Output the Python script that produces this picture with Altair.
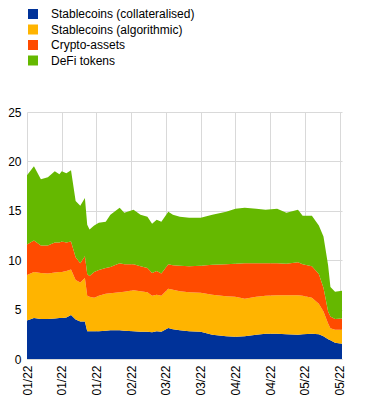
import altair as alt
import pandas as pd

dates = [
    "2022-01-01", "2022-01-04", "2022-01-07", "2022-01-10", "2022-01-13", "2022-01-15",
    "2022-01-16", "2022-01-18", "2022-01-20", "2022-01-22", "2022-01-24", "2022-01-26",
    "2022-01-27", "2022-01-28", "2022-01-30", "2022-02-01", "2022-02-04", "2022-02-06",
    "2022-02-10", "2022-02-12", "2022-02-16", "2022-02-19", "2022-02-22", "2022-02-24",
    "2022-02-26", "2022-02-28", "2022-03-03", "2022-03-05", "2022-03-08", "2022-03-12",
    "2022-03-17", "2022-03-22", "2022-03-28", "2022-04-01", "2022-04-05", "2022-04-10",
    "2022-04-14", "2022-04-19", "2022-04-23", "2022-04-28", "2022-04-30", "2022-05-04",
    "2022-05-07", "2022-05-09", "2022-05-11", "2022-05-12", "2022-05-14", "2022-05-17",
]

stable_collateralised = [
    3.9, 4.15, 4.05, 4.05, 4.1, 4.15, 4.15, 4.2, 4.45, 4.0, 3.8, 3.8,
    2.8, 2.8, 2.8, 2.8, 2.85, 2.9, 2.9, 2.85, 2.8, 2.75, 2.75, 2.7,
    2.8, 2.75, 3.15, 3.0, 2.9, 2.8, 2.75, 2.45, 2.3, 2.25, 2.3, 2.45,
    2.55, 2.55, 2.5, 2.45, 2.5, 2.55, 2.5, 2.3, 2.0, 1.9, 1.65, 1.55,
]
stable_algorithmic = [
    4.6, 4.65, 4.65, 4.6, 4.65, 4.65, 4.65, 4.7, 4.6, 4.0, 3.95, 4.4,
    3.6, 3.5, 3.4, 3.6, 3.75, 3.75, 3.85, 3.95, 4.15, 4.1, 4.0, 3.7,
    3.7, 3.65, 3.95, 4.0, 3.95, 3.95, 3.95, 4.05, 4.05, 4.05, 3.8, 3.85,
    3.85, 3.9, 3.95, 4.0, 3.9, 3.65, 3.1, 2.5, 1.6, 1.2, 1.3, 1.4,
]
crypto_assets = [
    3.1, 3.2, 2.8, 2.85, 3.05, 3.0, 3.1, 2.9, 2.85, 2.3, 1.95, 2.2,
    2.2, 2.1, 2.6, 2.6, 2.6, 2.65, 2.95, 2.8, 2.65, 2.55, 2.45, 2.3,
    2.4, 2.25, 2.5, 2.5, 2.6, 2.65, 2.75, 3.05, 3.25, 3.35, 3.6, 3.4,
    3.3, 3.25, 3.2, 3.35, 3.2, 3.2, 3.0, 2.4, 1.2, 1.2, 1.1, 1.15,
]
defi_tokens = [
    7.0, 7.5, 6.7, 6.9, 7.2, 6.9, 7.1, 7.0, 7.2, 5.7, 5.8, 5.9,
    5.0, 4.7, 4.7, 4.8, 4.7, 5.3, 5.6, 5.2, 5.5, 5.2, 5.2, 5.0,
    5.2, 5.25, 5.3, 5.1, 4.95, 4.9, 4.85, 5.05, 5.3, 5.55, 5.6, 5.5,
    5.4, 5.5, 5.15, 5.3, 4.9, 5.1, 4.9, 5.2, 4.7, 3.0, 2.75, 2.8,
]

series_names = [
    "Stablecoins (collateralised)",
    "Stablecoins (algorithmic)",
    "Crypto-assets",
    "DeFi tokens",
]
series_colors = ["#003299", "#FFB400", "#FF4B00", "#65B800"]

tick_dates = [
    "2022-01-01", "2022-01-16", "2022-01-31", "2022-02-15", "2022-03-02",
    "2022-03-17", "2022-04-01", "2022-04-16", "2022-05-01", "2022-05-16",
]
y_ticks = [0, 5, 10, 15, 20, 25]

rows = []
for s_idx, (name, vals) in enumerate(zip(series_names,
                                         [stable_collateralised, stable_algorithmic,
                                          crypto_assets, defi_tokens])):
    for d, v in zip(dates, vals):
        rows.append({"date": d, "series": name, "value": v, "order": s_idx})
df = pd.DataFrame(rows)


def dt(s):
    y, m, d = (int(p) for p in s.split("-"))
    return alt.DateTime(year=y, month=m, date=d, utc=True)


font = "Liberation Sans"

chart = (
    alt.Chart(df)
    .mark_area(interpolate="linear")
    .encode(
        x=alt.X(
            "date:T",
            scale=alt.Scale(type="utc", domain=[dt("2022-01-01"), dt("2022-05-17")]),
            axis=alt.Axis(
                values=[dt(t) for t in tick_dates],
                format="%m/%y",
                labelAngle=-90,
                labelFontSize=12,
                labelFont=font,
                labelColor="#000000",
                labelPadding=6,
                grid=True,
                gridColor="#d9d9d9",
                ticks=False,
                domainColor="#d9d9d9",
                title=None,
            ),
        ),
        y=alt.Y(
            "value:Q",
            stack="zero",
            scale=alt.Scale(domain=[0, 25]),
            axis=alt.Axis(
                values=y_ticks,
                labelFontSize=12,
                labelFont=font,
                labelColor="#000000",
                labelPadding=6,
                grid=True,
                gridColor="#d9d9d9",
                ticks=False,
                domain=False,
                title=None,
            ),
        ),
        color=alt.Color(
            "series:N",
            scale=alt.Scale(domain=series_names, range=series_colors),
            legend=alt.Legend(
                title=None,
                orient="none",
                legendX=0,
                legendY=-104,
                symbolType="square",
                symbolSize=100,
                symbolStrokeWidth=0,
                symbolOpacity=1,
                labelFontSize=12,
                labelFont=font,
                labelColor="#000000",
                labelOffset=12,
                rowPadding=3.5,
            ),
        ),
        order=alt.Order("order:Q", sort="ascending"),
    )
    .properties(
        width=315,
        height=247,
        autosize="none",
        padding={"left": 19, "top": 104, "right": 16, "bottom": 37},
    )
    .configure_view(strokeWidth=0)
)

chart.save("out.html", embed_options={"renderer": "svg", "actions": False})
